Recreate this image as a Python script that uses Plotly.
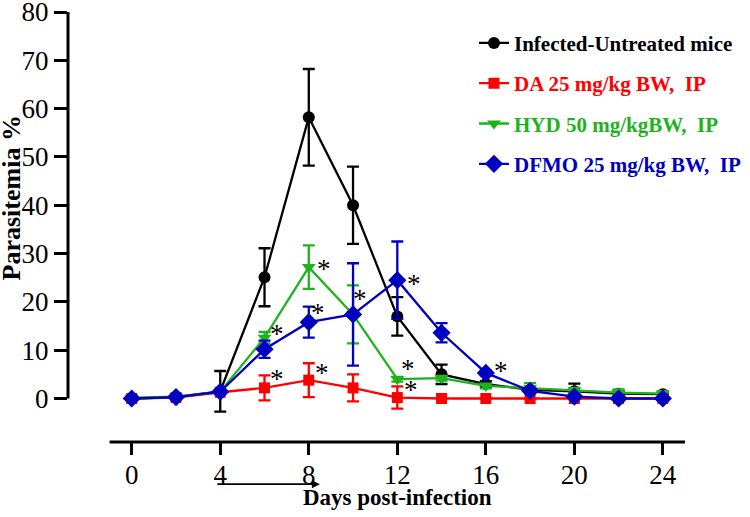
import plotly.graph_objects as go

# days post-infection
days = [0, 2, 4, 6, 8, 10, 12, 14, 16, 18, 20, 22, 24]

# mean parasitemia % and error for each group
untreated = [0, 0.3, 1.5, 25.1, 58.2, 40.0, 17.0, 5.0, 3.0, 1.8, 1.5, 1.0, 0.9]
untreated_err = [0, 0, 4.2, 6.0, 10.0, 8.0, 4.0, 2.0, 0.6, 0.5, 1.6, 0.5, 0.5]

da = [0, 0.2, 1.3, 2.2, 3.8, 2.2, 0.2, 0, 0, 0, 0, 0, 0]
da_err = [0, 0, 0, 2.6, 3.5, 2.8, 2.3, 0, 0, 0, 0, 0, 0]

hyd = [0.2, 0.4, 1.4, 12.6, 27.2, 17.4, 4.0, 4.2, 2.6, 2.2, 1.7, 1.2, 1.0]
hyd_err = [0, 0, 0, 1.2, 4.5, 6.0, 0.5, 0.5, 0.5, 1.0, 0.5, 0.7, 0.5]

dfmo = [0, 0.3, 1.4, 10.2, 15.8, 17.4, 24.5, 13.6, 5.3, 1.6, 0.4, 0, 0]
dfmo_err = [0, 0, 0, 1.8, 3.2, 10.6, 8.0, 2.0, 0.5, 0.5, 0.3, 0, 0]

# significance markers (x, y)
star_x = [6.55, 8.6, 6.55, 8.4, 8.7, 10.3, 12.75, 12.5, 12.6, 16.7]
star_y = [4.1, 5.2, 13.3, 17.6, 26.9, 20.7, 23.7, 6.2, 1.7, 5.7]

tick_vals = [0, 4, 8, 12, 16, 20, 24]

font = "Liberation Serif"

groups = [
    ("Infected-Untreated mice", untreated, untreated_err, "black", "circle", 12),
    ("DA 25 mg/kg BW,&nbsp; IP", da, da_err, "#ff0000", "square", 11),
    ("HYD 50 mg/kgBW,&nbsp; IP", hyd, hyd_err, "#1db31d", "triangle-down", 12),
    ("DFMO 25 mg/kg BW,&nbsp; IP", dfmo, dfmo_err, "#0000c0", "diamond", 14),
]

fig = go.Figure()

for i, (name, vals, errs, color, symbol, size) in enumerate(groups):
    fig.add_trace(go.Scatter(
        x=days, y=vals,
        mode="lines+markers",
        name="<b><span style='color:%s'>%s</span></b>" % (color, name),
        legendgroup="g%d" % i,
        line=dict(color=color, width=2.3),
        marker=dict(color=color, symbol=symbol, size=size),
        error_y=dict(type="data", array=errs, color=color, thickness=2.3, width=6),
        cliponaxis=False))

# asterisks for significance
for sx, sy in zip(star_x, star_y):
    fig.add_annotation(x=sx, y=sy, text="*", showarrow=False,
                       font=dict(family=font, size=27, color="black"))

# axis lines drawn by hand so the y axis stops at 0 and the x axis starts at -1
fig.add_shape(type="line", xref="paper", yref="y", x0=0, x1=0, y0=0, y1=80,
              line=dict(color="black", width=3))
fig.add_shape(type="line", xref="x", yref="paper", x0=-1, x1=25, y0=0, y1=0,
              line=dict(color="black", width=3))

# arrow under the x axis (treatment period)
fig.add_annotation(x=8.5, y=-0.098, xref="x", yref="paper", ax=-104, ay=0,
                   text="", showarrow=True, arrowhead=2, arrowsize=1,
                   arrowwidth=1.6, arrowcolor="black")

# axis titles
fig.add_annotation(x=-0.092, y=0.567, xref="paper", yref="paper", text="<b>Parasitemia %</b>",
                   textangle=-90, showarrow=False, xanchor="center", yanchor="middle",
                   font=dict(family=font, size=26, color="black"))
fig.add_annotation(x=12, y=-0.13, xref="x", yref="paper", text="<b>Days post-infection</b>",
                   showarrow=False, xanchor="center", yanchor="middle",
                   font=dict(family=font, size=23, color="black"))

fig.update_xaxes(range=[-2.88, 25], tickvals=tick_vals, ticks="outside", ticklen=12,
                 tickwidth=2.5, tickcolor="black", showline=False, showgrid=False,
                 zeroline=False, ticklabelstandoff=-3,
                 tickfont=dict(family=font, size=27, color="black"))
fig.update_yaxes(range=[-9, 80], tickvals=list(range(0, 81, 10)), ticks="outside", ticklen=13,
                 tickwidth=2.5, tickcolor="black", showline=False, showgrid=False,
                 zeroline=False, ticklabeloverflow="allow",
                 tickfont=dict(family=font, size=27, color="black"))

fig.update_layout(
    width=750, height=517,
    margin=dict(l=68, r=65, t=12, b=75, autoexpand=False),
    plot_bgcolor="white", paper_bgcolor="white",
    legend=dict(x=0.658, y=0.975, xanchor="left", yanchor="top",
                font=dict(family=font, size=21, color="black"),
                tracegroupgap=10, bgcolor="rgba(0,0,0,0)"),
)

# drop the page's default body margin so the figure sits at the top-left corner
fig.write_html("out.html", config={"displayModeBar": False},
               post_script="document.body.style.margin='0px';")
